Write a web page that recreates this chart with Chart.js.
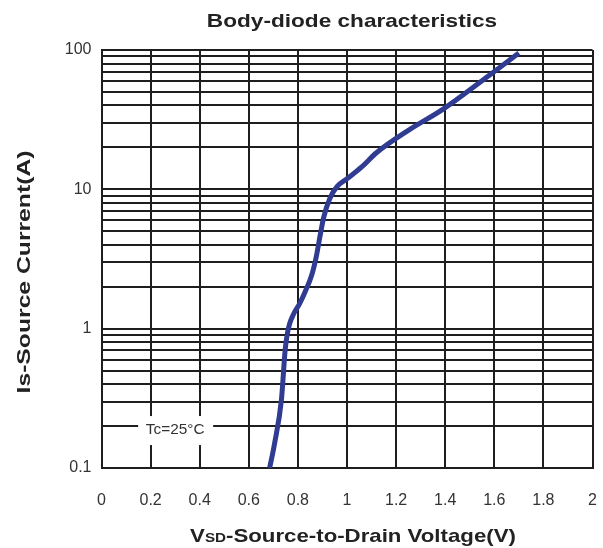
<!DOCTYPE html>
<html>
<head>
<meta charset="utf-8">
<script src="https://cdn.jsdelivr.net/npm/chart.js@4.4.1/dist/chart.umd.min.js"></script>
<style>
  html, body { margin: 0; padding: 0; background: #fff; }
  #wrap { width: 603px; height: 548px; }
</style>
</head>
<body>
<div id="wrap"><canvas id="chart" width="603" height="548"></canvas></div>
<script>
// curve
const vsd = [0.685, 0.705, 0.733, 0.748, 0.756, 0.766, 0.783, 0.806, 0.83, 0.857, 0.875, 0.89, 0.905, 0.93, 0.96, 1.0, 1.06, 1.12, 1.25, 1.39, 1.58, 1.70];
const isd = [0.1, 0.15, 0.31, 0.7, 0.9, 1.08, 1.28, 1.5, 1.85, 2.45, 3.3, 4.6, 6.3, 8.6, 10.5, 11.9, 14.5, 18.3, 26.5, 37.5, 66, 95];

const xTicks = [0, 0.2, 0.4, 0.6, 0.8, 1, 1.2, 1.4, 1.6, 1.8, 2];
const yTickLabels = [0.1, 1, 10, 100];

const chartTitle = "Body-diode characteristics";
const yTitle = "Is-Source Current(A)";
const xTitleParts = ["V", "SD", "-Source-to-Drain Voltage(V)"];
const note = { text: "Tc=25\u00b0C", x: 0.3, y: 0.2 };

const FONT = '"Liberation Sans", Arial, sans-serif';

// log grid: 1..9 of every decade
const yGrid = [];
yTickLabels.forEach((d, i) => {
    if (i === yTickLabels.length - 1) { yGrid.push(d); return; }
    for (let m = 1; m < 10; m++) yGrid.push(+(d * m).toPrecision(3));
});

function stretched(ctx, text, x, y, sx) {
    ctx.save();
    ctx.translate(x, y);
    ctx.scale(sx, 1);
    ctx.fillText(text, 0, 0);
    ctx.restore();
}

const extras = {
    id: "extras",
    beforeDatasetsDraw(chart) {
        const { ctx, scales: { x, y } } = chart;
        const cx = x.getPixelForValue(note.x);
        const cy = y.getPixelForValue(note.y) + 4;
        ctx.save();
        ctx.fillStyle = "#fff";
        ctx.fillRect(cx - 37, cy - 14, 75, 29);
        ctx.fillStyle = "#333";
        ctx.font = "14px " + FONT;
        ctx.textAlign = "center";
        ctx.textBaseline = "middle";
        stretched(ctx, note.text, cx, cy, 1.1);
        ctx.restore();
    },
    afterDraw(chart) {
        const { ctx, chartArea: a } = chart;
        ctx.save();
        ctx.fillStyle = "#222";
        ctx.textBaseline = "middle";
        ctx.textAlign = "center";

        // main title
        ctx.font = "bold 19px " + FONT;
        stretched(ctx, chartTitle, (a.left + a.right) / 2 + 5, 22, 1.19);

        // x title with small "SD"
        const sx = 1.17;
        const big = "bold 19px " + FONT, small = "bold 13px " + FONT;
        ctx.textAlign = "left";
        ctx.textBaseline = "alphabetic";
        const widths = xTitleParts.map((t, i) => {
            ctx.font = i === 1 ? small : big;
            return ctx.measureText(t).width * sx;
        });
        const total = widths.reduce((s, w) => s + w, 0);
        let px = 353 - total / 2;
        const base = 542;
        xTitleParts.forEach((t, i) => {
            ctx.font = i === 1 ? small : big;
            stretched(ctx, t, px, base, sx);
            px += widths[i];
        });

        // y title
        ctx.save();
        ctx.translate(25, (a.top + a.bottom) / 2 + 13);
        ctx.rotate(-Math.PI / 2);
        ctx.font = "bold 19px " + FONT;
        ctx.textAlign = "center";
        ctx.textBaseline = "middle";
        stretched(ctx, yTitle, 0, 0, 1.3);
        ctx.restore();

        ctx.restore();
    }
};

new Chart(document.getElementById("chart"), {
    type: "line",
    data: {
        datasets: [{
            data: vsd.map((v, i) => ({ x: v, y: isd[i] })),
            borderColor: "#303c92",
            borderWidth: 5,
            pointRadius: 0,
            cubicInterpolationMode: "monotone",
            fill: false
        }]
    },
    options: {
        responsive: false,
        animation: false,
        events: [],
        layout: { padding: { top: 50, right: 10.5, left: 0, bottom: 0 } },
        plugins: {
            legend: { display: false },
            title: { display: false },
            tooltip: { enabled: false }
        },
        scales: {
            x: {
                type: "linear",
                min: 0,
                max: 2,
                afterBuildTicks: s => { s.ticks = xTicks.map(v => ({ value: v })); },
                afterFit: s => { s.height = 80; s.paddingLeft = 0; s.paddingRight = 0; },
                ticks: {
                    autoSkip: false,
                    maxRotation: 0,
                    padding: 23,
                    color: "#333",
                    font: { family: FONT, size: 16 },
                    callback: v => String(+v.toFixed(1))
                },
                grid: { color: "#1e1e1e", lineWidth: 2, drawTicks: false },
                border: { color: "#1e1e1e", width: 2 }
            },
            y: {
                type: "logarithmic",
                min: 0.1,
                max: 100,
                afterBuildTicks: s => { s.ticks = yGrid.map(v => ({ value: v })); },
                afterFit: s => { s.width = 101.5; s.paddingTop = 0; s.paddingBottom = 0; },
                ticks: {
                    autoSkip: false,
                    padding: 10,
                    color: "#333",
                    font: { family: FONT, size: 16 },
                    callback: v => yTickLabels.some(t => Math.abs(t - v) < 1e-9) ? String(v) : ""
                },
                grid: { color: "#1e1e1e", lineWidth: 2, drawTicks: false },
                border: { color: "#1e1e1e", width: 2 }
            }
        }
    },
    plugins: [extras]
});
</script>
</body>
</html>
